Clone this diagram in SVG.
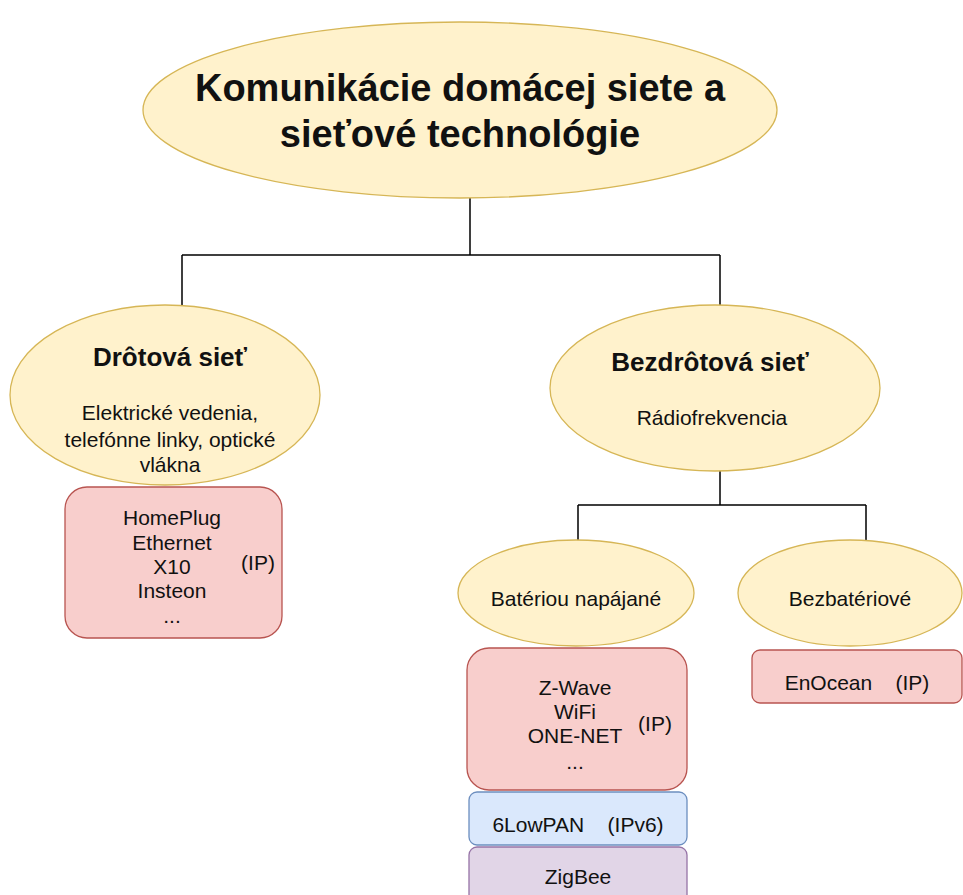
<svg xmlns="http://www.w3.org/2000/svg" width="963" height="895" viewBox="0 0 963 895">
<style>
.ell{fill:#fff2cc;stroke:#d6b656;stroke-width:1.3}
.red{fill:#f8cecc;stroke:#b85450;stroke-width:1.3}
.blue{fill:#dae8fc;stroke:#6c8ebf;stroke-width:1.3}
.purp{fill:#e1d5e7;stroke:#9673a6;stroke-width:1.3}
.conn{fill:none;stroke:#000;stroke-width:1.5}
text{font-family:"Liberation Sans",Arial,sans-serif;fill:#111;text-anchor:middle}
.t{font-size:21px}
.b{font-size:26px;font-weight:bold}
.h{font-size:38px;font-weight:bold}
</style>
<rect width="963" height="895" fill="#fff"/>
<g id="connectors">
<path class="conn" d="M470 198 V255 M182 255 H720 M182 255 V305 M720 255 V305"/>
<path class="conn" d="M720 470 V505 M578 505 H866 M578 505 V540 M866 505 V540"/>
</g>
<g id="root">
<ellipse class="ell" cx="460" cy="110" rx="317" ry="88"/>
<text class="h" x="460" y="101">Komunikácie domácej siete a</text>
<text class="h" x="460" y="147">sieťové technológie</text>
</g>
<g id="wired">
<ellipse class="ell" cx="165" cy="395" rx="155" ry="90"/>
<text class="b" x="170" y="366">Drôtová sieť</text>
<text class="t" x="170" y="420">Elektrické vedenia,</text>
<text class="t" x="170" y="447">telefónne linky, optické</text>
<text class="t" x="170" y="472">vlákna</text>
</g>
<g id="wireless">
<ellipse class="ell" cx="715" cy="388" rx="165" ry="83"/>
<text class="b" x="710" y="371">Bezdrôtová sieť</text>
<text class="t" x="712" y="425">Rádiofrekvencia</text>
</g>
<g id="wired-list">
<rect class="red" x="65" y="487" width="217" height="151" rx="22"/>
<text class="t" x="172" y="525">HomePlug</text>
<text class="t" x="172" y="550">Ethernet</text>
<text class="t" x="172" y="574">X10</text>
<text class="t" x="172" y="598">Insteon</text>
<text class="t" x="172" y="623">...</text>
<text class="t" x="258" y="570">(IP)</text>
</g>
<g id="battery">
<ellipse class="ell" cx="576" cy="593" rx="118" ry="53"/>
<text class="t" x="576" y="606">Batériou napájané</text>
</g>
<g id="batteryless">
<ellipse class="ell" cx="850" cy="593" rx="112" ry="53"/>
<text class="t" x="850" y="606">Bezbatériové</text>
</g>
<g id="battery-list">
<rect class="red" x="467" y="648" width="220" height="142" rx="22"/>
<text class="t" x="575" y="695">Z-Wave</text>
<text class="t" x="575" y="719">WiFi</text>
<text class="t" x="575" y="743">ONE-NET</text>
<text class="t" x="575" y="769">...</text>
<text class="t" x="655" y="731">(IP)</text>
</g>
<g id="sixlowpan">
<rect class="blue" x="469" y="792" width="218" height="53" rx="8"/>
<text class="t" x="578" y="832" xml:space="preserve">6LowPAN    (IPv6)</text>
</g>
<g id="zigbee">
<rect class="purp" x="469" y="847" width="218" height="60" rx="8"/>
<text class="t" x="578" y="884">ZigBee</text>
</g>
<g id="enocean">
<rect class="red" x="752" y="650" width="210" height="53" rx="8"/>
<text class="t" x="857" y="690" xml:space="preserve">EnOcean    (IP)</text>
</g>
</svg>
